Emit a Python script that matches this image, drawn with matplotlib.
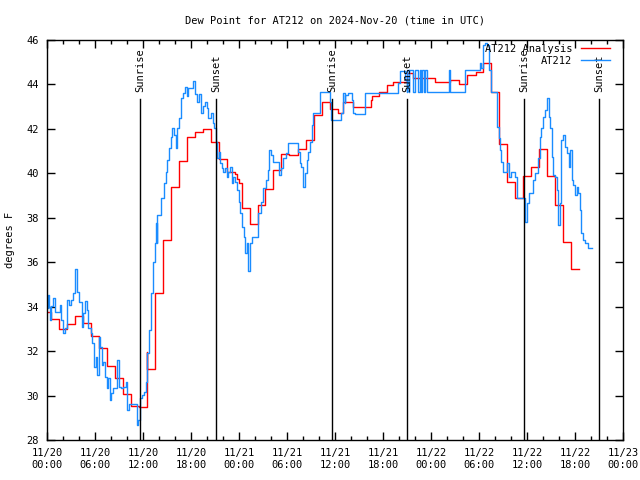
import matplotlib
matplotlib.use('Agg')
import matplotlib.pyplot as plt
import matplotlib.dates as mdates
from datetime import datetime, timedelta

# ---------------- data (hours since 2024-11-20 00:00 UTC) ----------------
analysis_hours = [0, 0.5, 1.5, 2.5, 3.5, 4.5, 5.5, 6.5, 7.5, 8.5, 9.5, 10.5, 11.5,
                  12.45, 12.55, 13.5, 14.5, 15.5, 16.5, 17.5, 18.5, 19.5, 20.5, 21.5,
                  22.5, 23.5, 23.8, 24.0, 24.4, 25.4, 26.4, 27.3, 28.3, 29.3, 30.3,
                  31.4, 32.4, 33.4, 34.4, 35.4, 36.4, 37.0, 38.3, 40.5, 40.6, 41.5,
                  42.5, 43.3, 45.0, 45.7, 48.5, 49.5, 50.4, 51.5, 52.5, 53.6, 54.5,
                  55.5, 56.5, 57.5, 58.5, 59.5, 60.5, 61.5, 62.5, 63.5, 64.5, 65.5, 66.5]
analysis_vals = [33.77, 33.43, 32.98, 33.2, 33.57, 33.25, 32.67, 32.13, 31.32, 30.79, 30.08,
                 29.54, 29.47, 31.97, 31.18, 34.6, 36.99, 39.4, 40.56, 41.62, 41.88, 41.98,
                 41.41, 40.63, 40.08, 39.95, 39.75, 39.55, 38.45, 37.7, 38.56, 39.28, 40.15,
                 40.86, 40.83, 41.08, 41.5, 42.63, 43.2, 42.88, 42.73, 43.23, 42.97, 43.3,
                 43.5, 43.68, 43.98, 44.1, 44.5, 44.28, 44.13, 44.1, 44.18, 44.0, 44.43,
                 44.58, 44.96, 43.68, 41.3, 39.6, 38.88, 39.88, 40.3, 41.1, 39.9, 38.57,
                 36.93, 35.7, 35.7]

obs_hours = [0.0, 0.08, 0.15, 0.25, 0.375, 0.45, 0.79, 1.0, 1.6, 1.8, 2.04, 2.25, 2.54,
             2.8, 3.0, 3.2, 3.45, 3.54, 3.79, 4.04, 4.33, 4.54, 4.75, 4.96, 5.17, 5.46,
             5.67, 5.87, 6.08, 6.29, 6.46, 6.62, 6.83, 7.04, 7.25, 7.46, 7.67, 7.87, 8.0,
             8.29, 8.79, 8.96, 9.2, 9.54, 9.875, 10.04, 10.2, 11.2, 11.4, 11.6, 11.83,
             12.1, 12.33, 12.5, 12.75, 13.0, 13.25, 13.45, 13.6, 13.7, 13.8, 14.2, 14.67,
             14.875, 15.04, 15.29, 15.5, 15.67, 15.875, 16.125, 16.29, 16.54, 16.75,
             16.96, 17.25, 17.46, 17.67, 18.2, 18.5, 18.7, 19.04, 19.25, 19.46, 19.75,
             19.96, 20.17, 20.46, 20.7, 20.875, 21.125, 21.29, 21.46, 21.625, 21.83,
             22.04, 22.25, 22.46, 22.67, 22.875, 23.08, 23.29, 23.5, 23.7, 23.95, 24.15,
             24.4, 24.6, 24.75, 24.96, 25.17, 25.35, 25.6, 26.4, 26.8, 27.0, 27.4, 27.6,
             27.8, 28.0, 28.2, 29.0, 29.2, 29.5, 29.9, 30.1, 31.4, 31.6, 31.8, 32.04,
             32.25, 32.46, 32.67, 32.875, 33.08, 33.3, 34.1, 35.4, 35.55, 36.8, 36.95,
             37.2, 37.3, 37.6, 38.1, 38.3, 38.5, 39.75, 43.9, 44.1, 44.7, 44.96, 45.0,
             45.2, 45.3, 45.8, 46.0, 46.4, 46.6, 46.8, 46.9, 47.1, 47.2, 47.5, 50.2,
             50.4, 52.2, 54.1, 54.3, 54.5, 54.75, 55.0, 55.3, 55.5, 56.2, 56.3, 56.45,
             56.6, 56.8, 57.0, 57.46, 57.8, 57.96, 58.5, 58.7, 59.75, 59.95, 60.2, 60.8,
             61.0, 61.4, 61.6, 61.8, 62.0, 62.25, 62.5, 62.7, 62.9, 63.1, 63.3, 63.5,
             63.7, 63.9, 64.1, 64.3, 64.5, 64.75, 64.96, 65.2, 65.4, 65.6, 65.8, 66.0,
             66.2, 66.4, 66.6, 66.8, 67.04, 67.25, 67.67, 68.1]
obs_vals = [34.3, 33.93, 34.53, 34.0, 33.4, 34.03, 34.38, 33.78, 34.08, 33.4, 32.8, 33.03,
            34.3, 34.08, 34.3, 34.6, 35.05, 35.68, 34.68, 34.23, 33.1, 33.7, 34.27, 33.85,
            33.03, 32.8, 32.35, 31.3, 31.75, 30.93, 32.65, 32.2, 31.38, 31.53, 30.85,
            30.33, 30.78, 29.8, 30.1, 30.33, 31.6, 30.4, 30.33, 30.4, 30.63, 29.35, 29.62,
            28.68, 28.9, 29.88, 30.03, 30.18, 30.63, 31.9, 32.95, 34.6, 36.03, 36.85,
            37.75, 36.85, 38.13, 38.88, 39.55, 40.08, 40.6, 41.13, 41.65, 42.03, 41.73,
            41.13, 42.03, 42.48, 43.38, 43.6, 43.9, 43.48, 43.83, 44.17, 43.57, 43.23,
            43.57, 42.7, 43.03, 43.23, 42.93, 42.48, 42.73, 42.25, 42.03, 41.43, 40.68,
            40.98, 40.45, 40.23, 40.08, 40.23, 39.85, 40.08, 40.3, 39.55, 39.85, 39.63,
            39.25, 38.73, 38.2, 37.6, 37.15, 36.4, 36.85, 35.6, 36.85, 37.15, 38.2, 38.73,
            39.33, 39.7, 40.15, 41.05, 40.83, 40.53, 39.93, 40.23, 40.68, 40.9, 41.38,
            40.98, 40.45, 40.3, 39.4, 40.0, 40.6, 40.98, 41.43, 42.18, 42.7, 43.68, 43.2,
            42.4, 42.7, 43.6, 43.15, 43.53, 43.63, 43.3, 42.7, 42.67, 43.63, 44.05, 44.62,
            44.2, 43.68, 44.65, 43.68, 44.65, 43.68, 44.65, 43.68, 44.65, 43.68, 44.65,
            43.68, 44.65, 43.68, 44.65, 43.68, 44.65, 44.95, 44.75, 45.78, 45.88, 45.78,
            44.65, 43.68, 42.4, 42.1, 41.58, 41.05, 40.53, 40.08, 40.45, 39.85, 40.08,
            39.85, 38.88, 37.83, 38.65, 39.1, 39.7, 40.0, 40.68, 41.65, 42.03, 42.55,
            42.85, 43.38, 42.55, 42.03, 40.75, 39.93, 39.85, 39.25, 37.68, 38.65, 41.5,
            41.73, 41.2, 40.9, 40.3, 41.05, 39.7, 39.48, 39.03, 39.4, 39.1, 38.35, 37.3,
            37.0, 36.85, 36.63, 36.63]

sun_hours = [11.63, 21.1, 35.65, 45.05, 59.66, 69.05]
sun_labels = ['Sunrise', 'Sunset', 'Sunrise', 'Sunset', 'Sunrise', 'Sunset']

title = 'Dew Point for AT212 on 2024-Nov-20 (time in UTC)'
ylabel = 'degrees F'
series_names = ['AT212 Analysis', 'AT212']

# ---------------- plotting ----------------
start = datetime(2024, 11, 20)


def to_dt(hours):
    return [start + timedelta(hours=h) for h in hours]


plt.rcParams['font.family'] = ['DejaVu Sans Mono']
plt.rcParams['font.size'] = 7.5

fig = plt.figure(figsize=(6.4, 4.8), dpi=100)
ax = fig.add_axes([47 / 640, 40 / 480, 576 / 640, 400 / 480])

ax.plot(to_dt(analysis_hours), analysis_vals, drawstyle='steps-post',
        color='#ff0000', lw=1.0, label=series_names[0])
ax.plot(to_dt(obs_hours), obs_vals, drawstyle='steps-post',
        color='#1a8cff', lw=1.0, label=series_names[1])

for h, lab in zip(sun_hours, sun_labels):
    t = start + timedelta(hours=h)
    ax.axvline(t, ymin=0, ymax=0.8525, color='black', lw=1.0)
    ax.text(t, 0.87, lab, transform=ax.get_xaxis_transform(), rotation=90,
            ha='center', va='bottom')

ax.set_xlim(start, start + timedelta(hours=72))
ax.set_ylim(28, 46)
ax.set_yticks(range(28, 47, 2))
ax.xaxis.set_major_locator(mdates.HourLocator(byhour=[0, 6, 12, 18]))
ax.xaxis.set_minor_locator(mdates.HourLocator(byhour=list(range(0, 24, 2))))
ax.xaxis.set_major_formatter(mdates.DateFormatter('%m/%d\n%H:%M'))
ax.tick_params(which='major', direction='in', top=True, right=True, length=6,
               width=1, pad=6)
ax.tick_params(which='minor', direction='in', top=True, right=False, length=3,
               width=1)
ax.tick_params(axis='y', which='minor', left=False, right=False)
for s in ax.spines.values():
    s.set_linewidth(1.0)

ax.set_title(title, pad=12, fontsize=7.5)
ax.set_ylabel(ylabel, labelpad=8)

leg = ax.legend(loc='upper right', bbox_to_anchor=(0.977, 0.99), frameon=False,
                markerfirst=False, handlelength=2.8, handletextpad=0.8,
                labelspacing=0.2, borderaxespad=0, borderpad=0)

fig.savefig('out.png', dpi=100)
